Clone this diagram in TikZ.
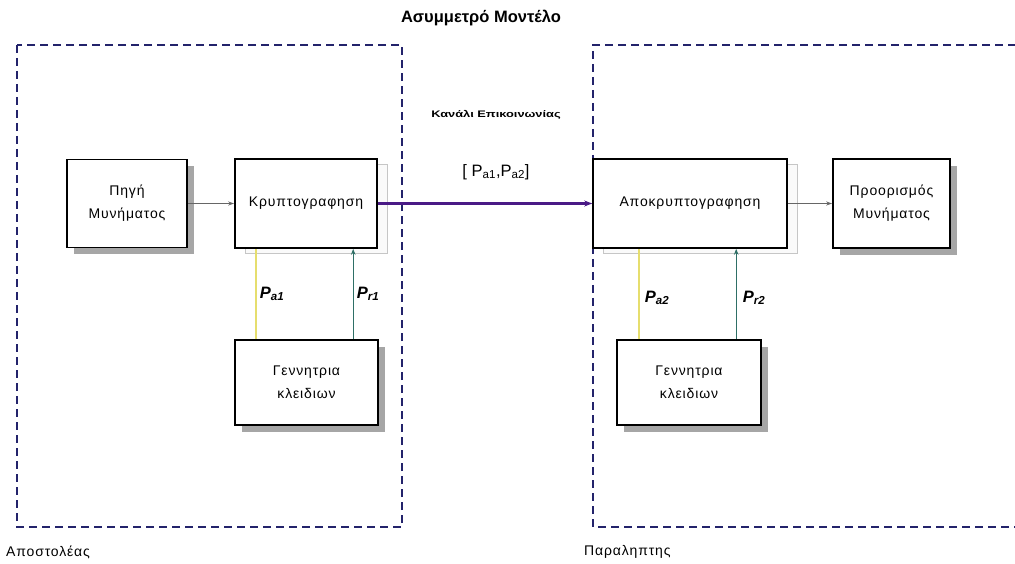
\documentclass[tikz,border=0pt]{standalone}
\usepackage{fontspec}
\setmainfont{Liberation Sans}
\newfontfamily\wideff[LetterSpace=6]{Liberation Sans}
\usetikzlibrary{shadows,calc,arrows.meta}
\definecolor{framecol}{HTML}{23236B}
\definecolor{chancol}{HTML}{4A1A86}
\definecolor{yelcol}{HTML}{E6DE6E}
\definecolor{tealcol}{HTML}{2E6F66}
\tikzset{
  boxbase/.style={draw=black, line width=1.6pt, fill=white, align=center,
    font=\wideff\fontsize{14}{23}\selectfont, inner sep=0pt},
  darkshadow/.style={boxbase, drop shadow={shadow xshift=7pt, shadow yshift=-7pt, fill=gray!70, opacity=1}},
  lightshadow/.style={boxbase, general shadow={shadow xshift=10pt, shadow yshift=-6pt, draw=gray!45, line width=1pt, fill=gray!4}},
  frame/.style={draw=framecol, line width=2.2pt, dash pattern=on 8pt off 5pt},
  grayarrow/.style={draw=gray!80!black, line width=0.9pt, -{Stealth[length=6pt,width=4pt]}},
  chanarrow/.style={draw=chancol, line width=3pt, -{Stealth[length=8pt,width=6pt]}},
  yline/.style={draw=yelcol, line width=1.5pt},
  tline/.style={draw=tealcol, line width=1.3pt, -{Stealth[length=6pt,width=4.5pt]}},
  plabel/.style={font=\fontsize{16.5}{18}\selectfont\bfseries\itshape, inner sep=0pt},
  sidelabel/.style={font=\wideff\fontsize{14}{16}\selectfont, inner sep=0pt, anchor=west}
}
\begin{document}
\begin{tikzpicture}[x=1pt,y=-1pt]
\useasboundingbox (0,0) rectangle (1015,564);
% frames
\coordinate (f1a) at (17,45);
\coordinate (f1b) at (402,527);
\draw[frame] (f1a) rectangle (f1b);
\draw[frame] (1016,45) -- (593,45) -- (593,527) -- (1016,527);
% title and channel labels
\node[font=\fontsize{16.5}{18}\selectfont\bfseries, inner sep=0pt] (title) at (481,18) {Ασυμμετρό Μοντέλο};
\node[inner sep=0pt] (chanlbl) at (496,115) {\scalebox{1.35}[1]{\fontsize{9.5}{11}\selectfont\bfseries Κανάλι Επικοινωνίας}};
\node[font=\fontsize{16.5}{18}\selectfont, inner sep=0pt] (keys) at (496,172) {[ P\textsubscript{a1},P\textsubscript{a2}]};
% boxes
\node[darkshadow, minimum width=120pt, minimum height=88pt] (src) at (127,203.5) {Πηγή\\Μυνήματος};
\node[lightshadow, minimum width=142pt, minimum height=89pt] (enc) at (306,203.5) {Κρυπτογραφηση};
\node[lightshadow, minimum width=194pt, minimum height=89pt] (dec) at (690,203.5) {Αποκρυπτογραφηση};
\node[darkshadow, minimum width=117pt, minimum height=89pt] (dst) at (891.5,203.5) {Προορισμός\\Μυνήματος};
\node[darkshadow, minimum width=143pt, minimum height=85pt] (gen1) at (306.5,382.5) {Γεννητρια\\κλειδιων};
\node[darkshadow, minimum width=144pt, minimum height=85pt] (gen2) at (689,382.5) {Γεννητρια\\κλειδιων};
% connectors
\draw[grayarrow] (src.east) -- (enc.west);
\draw[chanarrow] (enc.east) -- (dec.west);
\draw[grayarrow] (dec.east) -- (dst.west);
\coordinate (y1) at ($(gen1.north west)+(22,0)$);
\coordinate (t1) at ($(gen1.north west)+(119,0)$);
\coordinate (y2) at ($(gen2.north west)+(23,0)$);
\coordinate (t2) at ($(gen2.north west)+(120,0)$);
\draw[yline] (y1) -- (y1 |- enc.south);
\draw[tline] (t1) -- (t1 |- enc.south);
\draw[yline] (y2) -- (y2 |- dec.south);
\draw[tline] (t2) -- (t2 |- dec.south);
\node[plabel] (pa1) at (272,294) {P\textsubscript{a1}};
\node[plabel] (pr1) at (368,294) {P\textsubscript{r1}};
\node[plabel] (pa2) at (657,298) {P\textsubscript{a2}};
\node[plabel] (pr2) at (754,298) {P\textsubscript{r2}};
% bottom labels
\node[sidelabel] (snd) at (6,552) {Αποστολέας};
\node[sidelabel] (rcv) at (584,552) {Παραληπτης};
\end{tikzpicture}
\end{document}
